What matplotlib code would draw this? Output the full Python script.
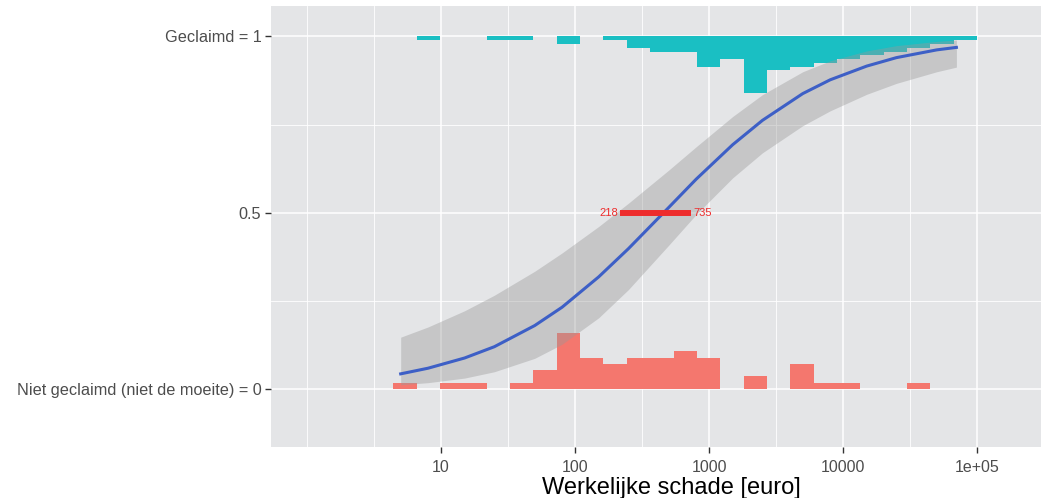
import numpy as np
import matplotlib.pyplot as plt

plt.rcParams['font.family'] = ['Liberation Sans', 'DejaVu Sans']

# histogram counts per log10 bin (claimed on top, not claimed at the bottom)
bin_lo, bin_hi, n_bins = 0.645, 4.998, 25
counts_claimed = [0, 1, 0, 0, 1, 1, 0, 2, 0, 1, 3, 4, 4, 8, 6, 15, 9, 8, 7, 6, 5, 4, 3, 2, 1]
counts_not_claimed = [1, 0, 1, 1, 0, 1, 3, 9, 5, 4, 5, 5, 6, 5, 0, 2, 0, 4, 1, 1, 0, 0, 1, 0, 0]
hist_max_height = 0.16

# fitted probability of claiming with 95% band
schade = [5, 8, 15, 25, 50, 80, 150, 250, 500, 800, 1500, 2500, 5000, 8000,
          15000, 25000, 50000, 70000]
p_fit = [0.043, 0.059, 0.088, 0.120, 0.180, 0.232, 0.318, 0.398, 0.515, 0.595,
         0.693, 0.762, 0.838, 0.877, 0.916, 0.940, 0.962, 0.969]
p_low = [0.012, 0.018, 0.031, 0.049, 0.087, 0.127, 0.202, 0.282, 0.408, 0.495,
         0.599, 0.670, 0.747, 0.789, 0.836, 0.867, 0.900, 0.913]
p_high = [0.147, 0.176, 0.222, 0.266, 0.334, 0.386, 0.461, 0.527, 0.621, 0.687,
          0.773, 0.835, 0.900, 0.931, 0.959, 0.974, 0.986, 0.990]

# damage interval where the band crosses p = 0.5
ci_low, ci_high = 218, 735

yticks = [0, 0.5, 1]
ytick_labels = ['Niet geclaimd (niet de moeite) = 0', '0.5', 'Geclaimd = 1']
xticks = [10, 100, 1000, 10000, 100000]
xtick_labels = ['10', '100', '1000', '10000', '1e+05']

edges = 10 ** np.linspace(bin_lo, bin_hi, n_bins + 1)
widths = np.diff(edges)
h_top = np.array(counts_claimed) / max(counts_claimed) * hist_max_height
h_bot = np.array(counts_not_claimed) / max(counts_not_claimed) * hist_max_height

fig = plt.figure(figsize=(10.41, 4.98), dpi=100)
# the panel runs a little past the right edge of the figure
ax = fig.add_axes([0.2603, 0.1024, 0.7685, 0.8856])
ax.set_facecolor('#E4E5E7')
ax.set_xscale('log')
ax.set_xlim(0.5385, 10 ** 5.70)
ax.set_ylim(-0.1645, 1.0865)

# grid
for v in [10 ** k for k in np.arange(0, 6, 0.5)]:
    major = float(np.log10(v)).is_integer() and v >= 10
    ax.axvline(v, color='white', lw=1.1 if major else 0.6, zorder=0)
for v in [0, 0.25, 0.5, 0.75, 1]:
    ax.axhline(v, color='white', lw=1.1 if v in yticks else 0.6, zorder=0)

ax.bar(edges[:-1], h_bot, width=widths, align='edge', bottom=0,
       color='#F4776E', linewidth=0, zorder=1)
ax.bar(edges[:-1], h_top, width=widths, align='edge', bottom=1 - h_top,
       color='#1ABFC3', linewidth=0, zorder=1)

ax.fill_between(schade, p_low, p_high, color='#999999', alpha=0.4,
                linewidth=0, zorder=2)
ax.plot(schade, p_fit, color='#3D5FC6', lw=2.2, zorder=3)

ax.plot([ci_low, ci_high], [0.5, 0.5], color='#EE2C2C', lw=4.3,
        solid_capstyle='butt', zorder=4)
ax.text(ci_low * 0.96, 0.5, str(ci_low), color='#EE2C2C', fontsize=8,
        ha='right', va='center', zorder=4)
ax.text(ci_high * 1.04, 0.5, str(ci_high), color='#EE2C2C', fontsize=8,
        ha='left', va='center', zorder=4)

ax.set_xticks(xticks)
ax.set_xticklabels(xtick_labels)
ax.xaxis.set_minor_locator(plt.NullLocator())
ax.set_yticks(yticks)
ax.set_yticklabels(ytick_labels)
ax.tick_params(axis='both', length=4, width=1, color='#333333',
               labelcolor='#4D4D4D', labelsize=11.7, pad=3)
ax.tick_params(axis='x', labelsize=11.5, pad=5)
for s in ax.spines.values():
    s.set_visible(False)

ax.set_xlabel('Werkelijke schade [euro]', fontsize=17, color='black', labelpad=2)

fig.savefig('out.png', dpi=100, facecolor='white')
